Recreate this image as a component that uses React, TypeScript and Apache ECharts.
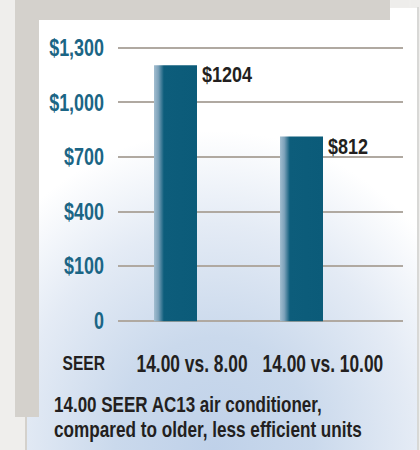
import React, { useEffect, useRef } from "react";
import * as echarts from "echarts";

const categories = ["14.00 vs. 8.00", "14.00 vs. 10.00"];
const costs = [1204, 812];
const yTicks = [-200, 100, 400, 700, 1000, 1300];
const yTickLabels = ["0", "$100", "$400", "$700", "$1,000", "$1,300"];
const axisTitle = "SEER";
const captionLines = ["14.00 SEER AC13 air conditioner,", "compared to older, less efficient units"];

const FONT = "'Liberation Sans', Arimo, Arial, sans-serif";

export default function App() {
  const ref = useRef<HTMLDivElement>(null);
  useEffect(() => {
    document.body.style.margin = "0";
    if (!ref.current) return;
    const chart = echarts.init(ref.current, null, { renderer: "svg" });
    const barFill = new echarts.graphic.LinearGradient(0, 0, 1, 0, [
      { offset: 0, color: "#a3bed0" },
      { offset: 0.1, color: "#7da2ba" },
      { offset: 0.23, color: "#0d5d7b" },
      { offset: 1, color: "#0b5b79" },
    ]);
    const sky = new echarts.graphic.RadialGradient(0.48, 1.0, 0.85, [
      { offset: 0, color: "#bfd1e9" },
      { offset: 0.3, color: "#cad9ec" },
      { offset: 0.6, color: "#e4ebf5" },
      { offset: 0.85, color: "#ffffff" },
      { offset: 1, color: "#ffffff" },
    ]);
    const yMin = yTicks[0];
    const yMax = yTicks[yTicks.length - 1];
    const yStep = yTicks[1] - yTicks[0];
    const option: any = {
      animation: false,
      backgroundColor: "#efeeec",
      graphic: [
        { type: "rect", z: -10, shape: { x: 27, y: 8, width: 390, height: 442 }, style: { fill: sky } },
        { type: "rect", z: -9, shape: { x: 15, y: 0, width: 375, height: 20 }, style: { fill: "#d4d1cc" } },
        { type: "rect", z: -9, shape: { x: 15, y: 0, width: 24, height: 417 }, style: { fill: "#d4d1cc" } },
        { type: "rect", z: -9, shape: { x: 25, y: 417, width: 2, height: 33 }, style: { fill: "#d4d1cc" } },
        { type: "rect", z: -9, shape: { x: 417, y: 7, width: 2, height: 443 }, style: { fill: "#d8d8d6" } },
        { type: "rect", z: -9, shape: { x: 391, y: 0, width: 18, height: 7 }, style: { fill: "#eeedeb" } },
        { type: "rect", z: -9, shape: { x: 411, y: 0, width: 9, height: 7 }, style: { fill: "#eeedeb" } },
        {
          type: "text",
          x: 105,
          y: 363,
          scaleX: 0.8,
          style: {
            text: axisTitle,
            align: "right",
            verticalAlign: "middle",
            font: `bold 19.5px ${FONT}`,
            fill: "#231f20",
          },
        },
        {
          type: "text",
          x: 54,
          y: 404,
          scaleX: 0.773,
          style: {
            text: captionLines[0],
            align: "left",
            verticalAlign: "middle",
            font: `bold 22px ${FONT}`,
            fill: "#231f20",
          },
        },
        {
          type: "text",
          x: 54,
          y: 429.5,
          scaleX: 0.78,
          style: {
            text: captionLines[1],
            align: "left",
            verticalAlign: "middle",
            font: `bold 22px ${FONT}`,
            fill: "#231f20",
          },
        },
      ],
      grid: [
        { left: 118, right: 17, top: 47.7, height: 272.6 },
        { left: 112.5, width: 252, top: 47.7, height: 272.6 },
      ],
      xAxis: [
        { gridIndex: 0, type: "category", data: categories, show: false },
        { gridIndex: 1, type: "category", data: categories, show: false },
      ],
      yAxis: [
        {
          gridIndex: 0,
          type: "value",
          min: yMin,
          max: yMax,
          interval: yStep,
          axisLine: { show: false },
          axisTick: { show: false },
          axisLabel: { show: false },
          splitLine: { lineStyle: { color: "#b0a9a1", width: 2 } },
        },
        {
          gridIndex: 1,
          type: "value",
          min: yMin,
          max: yMax,
          interval: yStep,
          show: false,
          splitLine: { show: false },
        },
      ],
      series: [
        {
          type: "custom",
          name: "yLabels",
          xAxisIndex: 0,
          yAxisIndex: 0,
          encode: { x: 0, y: 1 },
          data: yTicks.map((t) => [0, t]),
          clip: false,
          renderItem: (params: any, api: any) => {
            const t = api.value(1);
            const p = api.coord([0, t]);
            const idx = params.dataIndex;
            return {
              type: "text",
              x: 104,
              y: p[1],
              scaleX: 0.78,
              style: {
                text: yTickLabels[idx],
                align: "right",
                verticalAlign: "middle",
                font: `bold 23px ${FONT}`,
                fill: "#1b6585",
              },
            };
          },
        },
        {
          type: "custom",
          name: "cost",
          xAxisIndex: 1,
          yAxisIndex: 1,
          encode: { x: 0, y: 1 },
          clip: false,
          data: categories.map((c, i) => [i, costs[i]]),
          renderItem: (params: any, api: any) => {
            const i = api.value(0);
            const v = api.value(1);
            const top = api.coord([i, v]);
            const base = api.coord([i, yMin]);
            const w = 43;
            const x = top[0] - w / 2;
            return {
              type: "group",
              children: [
                {
                  type: "rect",
                  shape: { x, y: top[1], width: w, height: base[1] - top[1] + 1 },
                  style: { fill: barFill },
                },
                {
                  type: "text",
                  x: x + w + 5,
                  y: top[1] + 9.5,
                  scaleX: 0.8,
                  style: {
                    text: "$" + v,
                    align: "left",
                    verticalAlign: "middle",
                    font: `bold 22.5px ${FONT}`,
                    fill: "#231f20",
                  },
                },
                {
                  type: "text",
                  x: top[0] - 39,
                  y: base[1] + 43,
                  scaleX: 0.74,
                  style: {
                    text: categories[params.dataIndex],
                    align: "left",
                    verticalAlign: "middle",
                    font: `bold 23.5px ${FONT}`,
                    fill: "#231f20",
                  },
                },
              ],
            };
          },
        },
      ],
    };
    chart.setOption(option);
    return () => chart.dispose();
  }, []);
  return <div ref={ref} style={{ position: "absolute", left: 0, top: 0, width: 420, height: 450 }} />;
}
